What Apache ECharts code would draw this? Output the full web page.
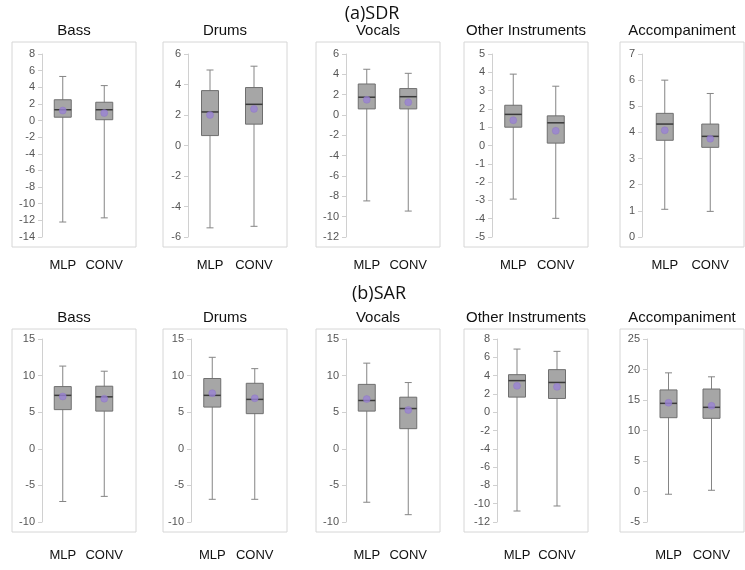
<!DOCTYPE html>
<html>
<head>
<meta charset="utf-8">
<title>SDR / SAR boxplots</title>
<script src="https://cdn.jsdelivr.net/npm/echarts@6/dist/echarts.min.js"></script>
<style>
  html, body { margin: 0; padding: 0; background: #fff; }
  #chart { width: 745px; height: 570px; }
</style>
</head>
<body>
<div id="chart"></div>
<script>
// categories and panel names
const categories = ['MLP', 'CONV'];
const instruments = ['Bass', 'Drums', 'Vocals', 'Other Instruments', 'Accompaniment'];
const rowTitles = ['(a)SDR', '(b)SAR'];

// boxes: [min, Q1, median, Q3, max] for MLP then CONV
const sdrBass = [[-12.2, 0.4, 1.3, 2.5, 5.3], [-11.7, 0.1, 1.3, 2.2, 4.2]];
const sdrDrums = [[-5.4, 0.65, 2.2, 3.6, 4.95], [-5.3, 1.4, 2.7, 3.8, 5.2]];
const sdrVocals = [[-8.45, 0.6, 1.75, 3.05, 4.5], [-9.45, 0.6, 1.8, 2.6, 4.1]];
const sdrOther = [[-2.93, 1.0, 1.7, 2.2, 3.9], [-3.98, 0.13, 1.24, 1.62, 3.24]];
const sdrAccomp = [[1.06, 3.7, 4.32, 4.73, 6.0], [0.98, 3.43, 3.85, 4.32, 5.49]];

const sarBass = [[-7.2, 5.35, 7.3, 8.5, 11.3], [-6.5, 5.15, 7.1, 8.55, 10.6]];
const sarDrums = [[-6.9, 5.7, 7.3, 9.6, 12.5], [-6.9, 4.8, 6.75, 8.95, 10.95]];
const sarVocals = [[-7.3, 5.15, 6.6, 8.8, 11.7], [-9.0, 2.75, 5.5, 7.05, 9.05]];
const sarOther = [[-10.8, 1.65, 3.45, 4.1, 6.9], [-10.25, 1.5, 3.25, 4.65, 6.65]];
const sarAccomp = [[-0.45, 12.1, 14.45, 16.65, 19.45], [0.2, 12.0, 13.8, 16.8, 18.8]];

// means (purple dots): MLP, CONV
const sdrBassMean = [1.2, 0.9];
const sdrDrumsMean = [2.0, 2.4];
const sdrVocalsMean = [1.5, 1.25];
const sdrOtherMean = [1.38, 0.8];
const sdrAccompMean = [4.08, 3.76];

const sarBassMean = [7.15, 6.85];
const sarDrumsMean = [7.6, 6.9];
const sarVocalsMean = [6.8, 5.3];
const sarOtherMean = [2.88, 2.77];
const sarAccompMean = [14.55, 14.05];

// y axis ticks: [min, max, interval]
const sdrTicks = [[-14, 8, 2], [-6, 6, 2], [-12, 6, 2], [-5, 5, 1], [0, 7, 1]];
const sarTicks = [[-10, 15, 5], [-10, 15, 5], [-10, 15, 5], [-12, 8, 2], [-5, 25, 5]];

const rows = [
  { boxes: [sdrBass, sdrDrums, sdrVocals, sdrOther, sdrAccomp],
    means: [sdrBassMean, sdrDrumsMean, sdrVocalsMean, sdrOtherMean, sdrAccompMean],
    ticks: sdrTicks },
  { boxes: [sarBass, sarDrums, sarVocals, sarOther, sarAccomp],
    means: [sarBassMean, sarDrumsMean, sarVocalsMean, sarOtherMean, sarAccompMean],
    ticks: sarTicks }
];

// layout
const frameLeft = [12, 163, 316, 464, 620];
const frameW = 124;
const frameTop = [42, 329];
const frameH = [205, 203];
const plotTopPad = [12, 10];
const plotBottomPad = 10;
const axisOffset = [[30, 25, 30, 28, 22], [30, 28, 30, 33, 27]];
const rowTitleY = [14, 294];
const rowTitleX = [372, 379];
const labelMargin = [22, 27];

const chart = echarts.init(document.getElementById('chart'), null, { renderer: 'canvas' });

const grids = [], xAxes = [], yAxes = [], series = [], graphics = [];

function renderBox(params, api) {
  const xi = api.value(0);
  const x = api.coord([xi, api.value(3)])[0];
  const yMin = api.coord([xi, api.value(1)])[1];
  const yQ1 = api.coord([xi, api.value(2)])[1];
  const yMed = api.coord([xi, api.value(3)])[1];
  const yQ3 = api.coord([xi, api.value(4)])[1];
  const yMax = api.coord([xi, api.value(5)])[1];
  const half = 8.5, cap = 3.5;
  const whisker = { stroke: '#858585', lineWidth: 1 };
  return {
    type: 'group',
    children: [
      { type: 'line', shape: { x1: x, y1: yMax, x2: x, y2: yMin }, style: whisker },
      { type: 'line', shape: { x1: x - cap, y1: yMax, x2: x + cap, y2: yMax }, style: whisker },
      { type: 'line', shape: { x1: x - cap, y1: yMin, x2: x + cap, y2: yMin }, style: whisker },
      { type: 'rect', shape: { x: x - half, y: yQ3, width: half * 2, height: yQ1 - yQ3 },
        style: { fill: '#a6a6a6', stroke: '#6f6f6f', lineWidth: 1 } },
      { type: 'line', shape: { x1: x - half, y1: yMed, x2: x + half, y2: yMed },
        style: { stroke: '#3a3a3a', lineWidth: 1.5 } }
    ]
  };
}

rows.forEach((row, r) => {
  graphics.push({
    type: 'text', x: rowTitleX[r], y: rowTitleY[r],
    style: { text: rowTitles[r], fontSize: 18, fill: '#111', fontFamily: 'Open Sans',
      align: 'center', verticalAlign: 'middle' }
  });
  instruments.forEach((name, c) => {
    const idx = r * 5 + c;
    const fl = frameLeft[c];
    const ft = frameTop[r];
    const gLeft = fl + axisOffset[r][c];
    const gTop = ft + plotTopPad[r];
    const gH = frameH[r] - plotTopPad[r] - plotBottomPad;
    const gW = fl + frameW - 11 - gLeft;

    graphics.push({
      type: 'rect', x: fl, y: ft, z: -1,
      shape: { width: frameW, height: frameH[r] },
      style: { fill: '#fff', stroke: '#d6d6d6', lineWidth: 1 }
    });
    graphics.push({
      type: 'text', x: fl + frameW / 2, y: ft - 11,
      style: { text: name, fontSize: 15, fill: '#111', fontFamily: 'Liberation Sans',
        align: 'center', verticalAlign: 'middle' }
    });

    grids.push({ left: gLeft, top: gTop, width: gW, height: gH });
    xAxes.push({
      type: 'category', gridIndex: idx, data: categories,
      axisLine: { show: false }, axisTick: { show: false },
      axisLabel: { interval: 0, color: '#111', fontSize: 13, margin: labelMargin[r],
        fontFamily: 'Liberation Sans' }
    });
    const t = row.ticks[c];
    yAxes.push({
      type: 'value', gridIndex: idx, min: t[0], max: t[1], interval: t[2],
      splitLine: { show: false },
      axisLine: { show: true, lineStyle: { color: '#d0d0d0' } },
      axisTick: { show: true, length: 4, lineStyle: { color: '#d0d0d0' } },
      axisLabel: { color: '#555', fontSize: 11, margin: 7, fontFamily: 'Liberation Sans' }
    });
    series.push({
      type: 'custom', xAxisIndex: idx, yAxisIndex: idx,
      renderItem: renderBox,
      encode: { x: 0, y: [1, 2, 3, 4, 5] },
      data: row.boxes[c].map((b, i) => [i].concat(b)),
      silent: true
    });
    series.push({
      type: 'scatter', xAxisIndex: idx, yAxisIndex: idx,
      data: row.means[c], symbolSize: 7, z: 5,
      itemStyle: { color: '#9a83d4', borderColor: '#8b74c6', borderWidth: 0.5 },
      silent: true
    });
  });
});

chart.setOption({
  animation: false,
  grid: grids,
  xAxis: xAxes,
  yAxis: yAxes,
  series: series,
  graphic: graphics
});
</script>
</body>
</html>
